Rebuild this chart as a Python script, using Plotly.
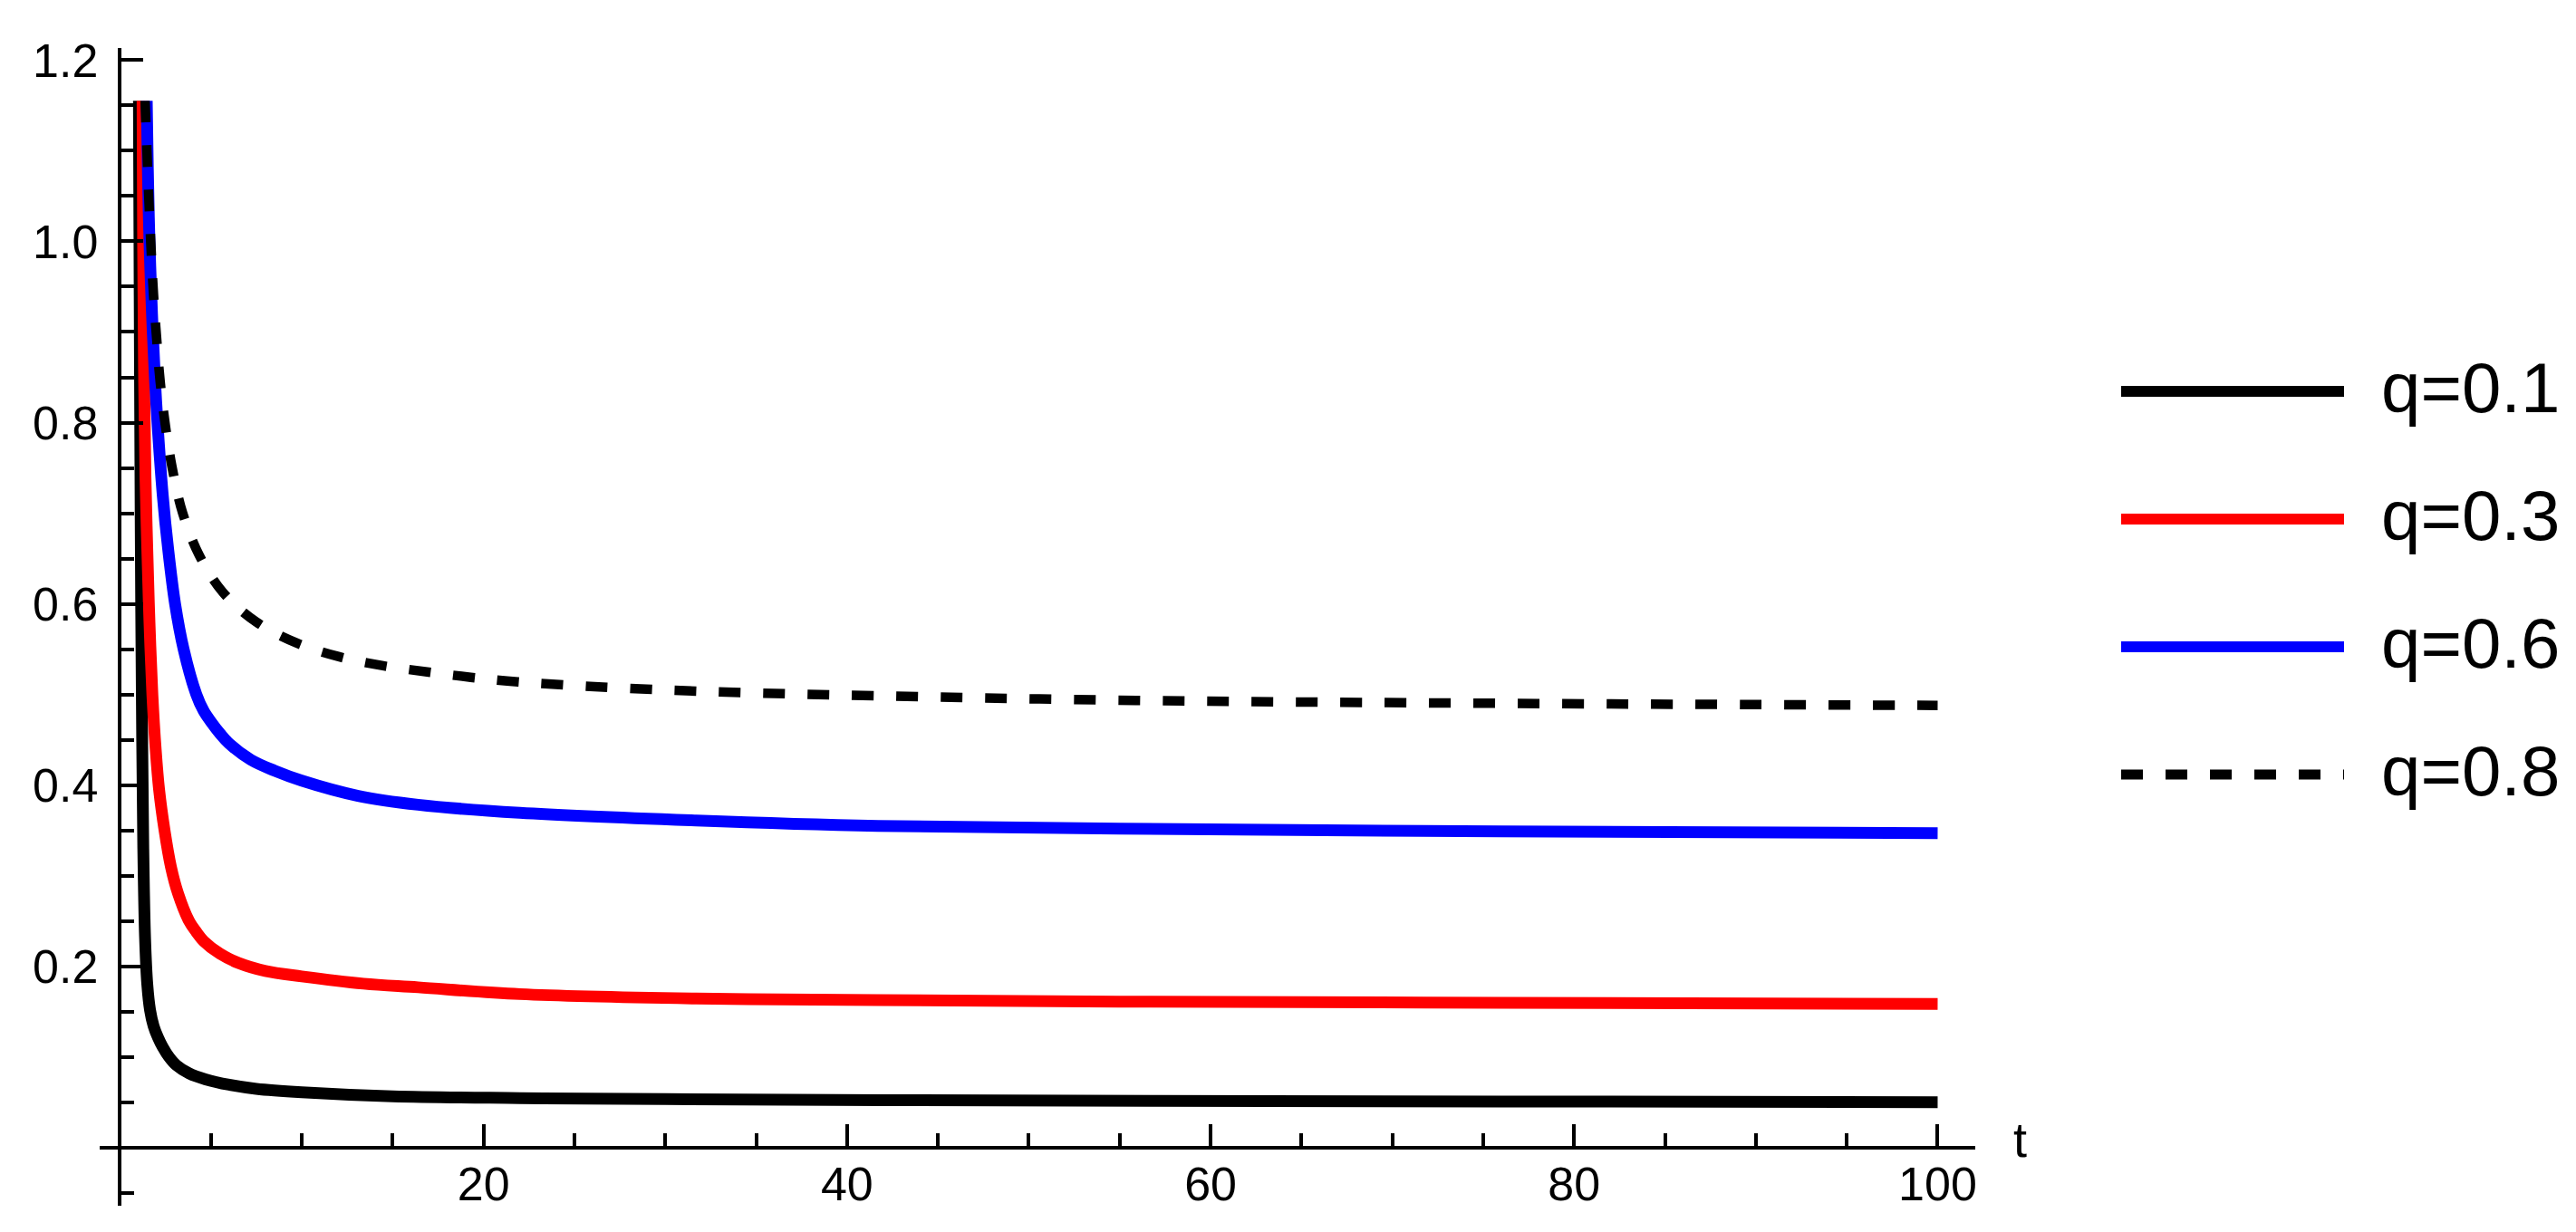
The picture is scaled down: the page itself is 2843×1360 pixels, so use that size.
import plotly.graph_objects as go

# ---------------- data ----------------
t_q01 = [1.04, 1.07, 1.10, 1.14, 1.20, 1.28, 1.38, 1.50, 1.65, 1.85, 2.08, 2.35, 2.7, 3.1, 3.8,
         4.7, 6.0, 7.5, 10, 15, 22, 30, 42, 57, 76, 100]
y_q01 = [1.155, 1.0, 0.85, 0.68, 0.5, 0.33, 0.23, 0.18, 0.152, 0.134, 0.122, 0.111, 0.100, 0.091, 0.082,
         0.0755, 0.0695, 0.065, 0.0612, 0.0567, 0.0548, 0.0537, 0.0525, 0.0516, 0.0510, 0.0503]

t_q03 = [1.24, 1.27, 1.32, 1.40, 1.50, 1.62, 1.78, 1.96, 2.15, 2.45, 2.8, 3.2, 3.8, 4.2, 4.6, 5.5,
         6.5, 8.0, 10, 13.4, 16.4, 22, 31.7, 41.7, 55, 76, 100]
y_q03 = [1.155, 1.0, 0.86, 0.74, 0.66, 0.58, 0.5, 0.44, 0.395, 0.35, 0.31, 0.28, 0.25, 0.238, 0.228, 0.214,
         0.204, 0.195, 0.189, 0.181, 0.177, 0.1695, 0.1646, 0.163, 0.1612, 0.160, 0.1587]

t_q06 = [1.47, 1.53, 1.62, 1.76, 1.93, 2.05, 2.35, 2.65, 3.03, 3.5, 4.2, 4.6, 5.0, 5.5, 6.0, 7.2, 8.5,
         10, 13.1, 16.4, 22, 31.7, 41.7, 55, 76, 100]
y_q06 = [1.155, 1.08, 1.0, 0.92, 0.845, 0.803, 0.72, 0.66, 0.6, 0.55, 0.5, 0.482, 0.47, 0.457, 0.446, 0.428, 0.416,
         0.405, 0.3882, 0.3784, 0.3695, 0.361, 0.355, 0.352, 0.349, 0.347]

t_q08 = [1.38, 1.41, 1.50, 1.60, 1.71, 1.84, 2.01, 2.21, 2.50, 2.90, 3.45, 4.35, 5.65, 7.5,
         9.7, 12.0, 14.4, 16.9, 19.3, 21.9, 30, 39.5, 55.9, 72.8, 100]
y_q08 = [1.155, 1.138, 1.089, 1.040, 0.991, 0.942, 0.894, 0.845, 0.796, 0.747, 0.700, 0.654, 0.613, 0.580,
         0.557, 0.542, 0.532, 0.525, 0.519, 0.514, 0.505, 0.4995, 0.4935, 0.4907, 0.488]

series_labels = ["q=0.1", "q=0.3", "q=0.6", "q=0.8"]

x_tick_vals = [20, 40, 60, 80, 100]
x_tick_text = ["20", "40", "60", "80", "100"]
x_minor_vals = [5, 10, 15, 25, 30, 35, 45, 50, 55, 65, 70, 75, 85, 90, 95]
y_tick_vals = [0.2, 0.4, 0.6, 0.8, 1.0, 1.2]
y_tick_text = ["0.2", "0.4", "0.6", "0.8", "1.0", "1.2"]
y_minor_vals = [-0.05, 0.05, 0.1, 0.15, 0.25, 0.3, 0.35, 0.45, 0.5, 0.55, 0.65, 0.7, 0.75,
                0.85, 0.9, 0.95, 1.05, 1.1, 1.15]

X_RANGE = [-1.12, 102.07]
Y_RANGE = [-0.064, 1.2133]

# ---------------- styling ----------------
W, H = 2843, 1360
ML, MR, MT, MB = 102, 671, 45, 37
PW, PH = W - ML - MR, H - MT - MB
FONT = "Arial, 'Liberation Sans', sans-serif"

styles = [
    dict(color="#000000", width=13, dash="solid"),
    dict(color="#FF0000", width=13, dash="solid"),
    dict(color="#0000FF", width=13, dash="solid"),
    dict(color="#000000", width=10.5, dash="24px,25px"),
]

fig = go.Figure()
for (tt, yy), st, name in zip([(t_q01, y_q01), (t_q03, y_q03), (t_q06, y_q06), (t_q08, y_q08)],
                              styles, series_labels):
    fig.add_trace(go.Scatter(
        x=tt, y=yy, mode="lines", name=name, showlegend=False, hoverinfo="skip",
        line=dict(color=st["color"], width=st["width"], dash=st["dash"],
                  shape="spline", smoothing=1.0),
    ))

x_axis_pos = (0 - Y_RANGE[0]) / (Y_RANGE[1] - Y_RANGE[0])
y_axis_pos = (0 - X_RANGE[0]) / (X_RANGE[1] - X_RANGE[0])

axis_common = dict(
    showgrid=False, zeroline=False, showline=True, linecolor="black", linewidth=3.5,
    ticks="inside", ticklen=24, tickwidth=3.5, tickcolor="black",
    tickfont=dict(family=FONT, size=52, color="black"), anchor="free",
)

fig.update_xaxes(
    range=X_RANGE, position=x_axis_pos, tickmode="array",
    tickvals=x_tick_vals, ticktext=x_tick_text, ticklabelstandoff=-6,
    minor=dict(tickmode="array", tickvals=x_minor_vals, ticks="inside", ticklen=14,
               tickwidth=3.5, tickcolor="black", showgrid=False),
    **axis_common,
)
fig.update_yaxes(
    range=Y_RANGE, position=y_axis_pos, tickmode="array",
    tickvals=y_tick_vals, ticktext=y_tick_text, ticklabelstandoff=12,
    minor=dict(tickmode="array", tickvals=y_minor_vals, ticks="inside", ticklen=14,
               tickwidth=3.5, tickcolor="black", showgrid=False),
    **axis_common,
)

# ---------------- custom legend (long line samples) ----------------
def px_to_paper_x(px):
    return (px - ML) / PW

def py_to_paper_y(py):
    return (MT + PH - py) / PH

LEG_LINE_X0, LEG_LINE_X1, LEG_TEXT_X = 2333, 2579, 2618
LEG_ROW_Y0, LEG_ROW_STEP = 424, 141
shapes = []
annotations = []
for i, (name, st) in enumerate(zip(series_labels, styles)):
    py = LEG_ROW_Y0 + i * LEG_ROW_STEP
    yp = py_to_paper_y(py)
    shapes.append(dict(
        type="line", xref="paper", yref="paper",
        x0=px_to_paper_x(LEG_LINE_X0), x1=px_to_paper_x(LEG_LINE_X1), y0=yp, y1=yp,
        line=dict(color=st["color"], width=12 if st["dash"] == "solid" else 11, dash=st["dash"]),
    ))
    annotations.append(dict(
        text=name, xref="paper", yref="paper", x=px_to_paper_x(LEG_TEXT_X), y=yp,
        xanchor="left", yanchor="middle", showarrow=False, yshift=4,
        font=dict(family=FONT, size=78, color="black"),
    ))

# axis label "t"
annotations.append(dict(
    text="t", xref="paper", yref="paper", x=px_to_paper_x(2227), y=x_axis_pos,
    xanchor="center", yanchor="middle", showarrow=False, yshift=9, xshift=-6,
    font=dict(family=FONT, size=54, color="black"),
))

fig.update_layout(
    width=W, height=H, margin=dict(l=ML, r=MR, t=MT, b=MB, autoexpand=False),
    plot_bgcolor="white", paper_bgcolor="white",
    font=dict(family=FONT, size=52, color="black"),
    shapes=shapes, annotations=annotations, showlegend=False,
)

fig.write_html("out.html")
